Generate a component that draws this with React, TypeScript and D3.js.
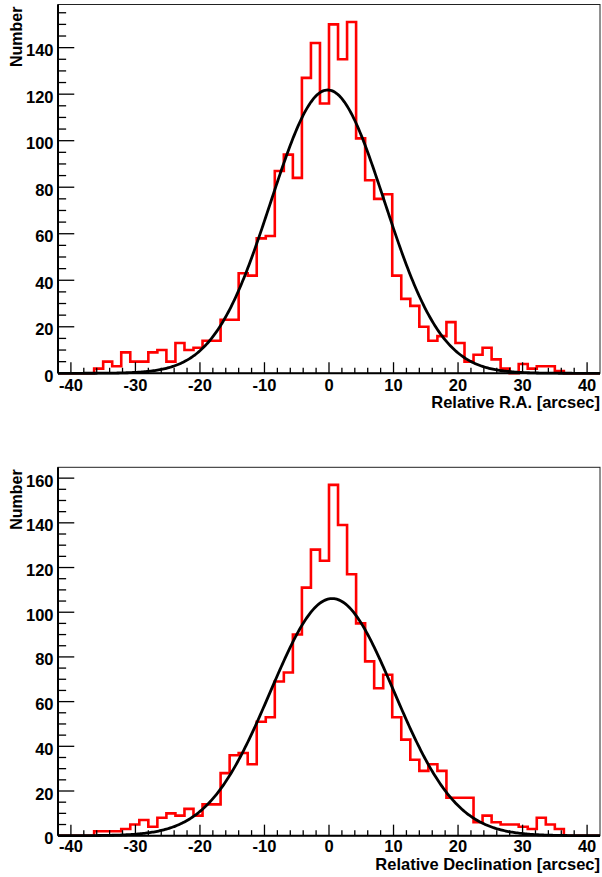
import React from 'react';
import * as d3 from 'd3';

// histogram binning: 60 bins of 1.4 arcsec over [-42, 42]
const binStart = -42;
const binWidth = 1.4;

// counts per bin
const raCounts = [
  0, 0, 0, 0, 2, 5, 3, 9, 5, 5,
  9, 10, 5, 13, 10, 11, 14, 14, 23, 23,
  43, 42, 58, 59, 87, 94, 84, 127, 142, 116,
  150, 135, 151, 101, 83, 75, 77, 42, 32, 29,
  20, 14, 16, 22, 13, 5, 8, 11, 6, 2,
  0, 4, 2, 3, 3, 1, 0, 0, 0, 0,
];
const decCounts = [
  0, 0, 0, 0, 2, 2, 2, 3, 5, 7,
  4, 8, 10, 9, 12, 9, 14, 14, 28, 36,
  37, 32, 51, 53, 69, 73, 90, 111, 128, 123,
  157, 139, 117, 95, 78, 66, 72, 53, 43, 34,
  29, 32, 29, 17, 17, 17, 6, 9, 6, 5,
  5, 4, 3, 8, 5, 3, 0, 0, 0, 0,
];

// gaussian fit parameters (amplitude, mean, sigma)
const raFit = [121.8, -0.2, 8.8];
const decFit = [106.1, 0.5, 9.6];

const xMajorTicks = [-40, -30, -20, -10, 0, 10, 20, 30, 40];
const raYTicks = [0, 20, 40, 60, 80, 100, 120, 140];
const decYTicks = [0, 20, 40, 60, 80, 100, 120, 140, 160];

const FONT = '"Liberation Sans", Arial, Helvetica, sans-serif';
const W = 602;
const H = 877;

function Panel({ counts, fit, yMax, yTicks, top, bottom, xTitle, labelBase, titleBase }) {
  const left = 58, right = 600;
  const x = d3.scaleLinear().domain([-42, 42]).range([left, right]);
  const y = d3.scaleLinear().domain([0, yMax]).range([bottom, top]);

  // step outline
  let d = `M${x(binStart)},${y(0)}`;
  counts.forEach((c, i) => {
    d += `V${y(c)}H${x(binStart + (i + 1) * binWidth)}`;
  });
  d += `V${y(0)}`;

  const [amp, mu, sig] = fit;
  const xs = d3.range(-42, 42.001, 0.2);
  const curve = d3.line()
    .x(v => x(v))
    .y(v => y(amp * Math.exp(-((v - mu) ** 2) / (2 * sig * sig))))(xs);

  const xMinor = d3.range(-42, 42.001, 2).filter(v => !xMajorTicks.includes(v) && v > -42 && v < 42);
  const yMinor = d3.range(0, yMax, 5).filter(v => v % 20 !== 0);
  const xTickLen = 0.03 * (bottom - top);
  const yTickLen = 0.03 * (right - left);

  return (
    <g>
      {/* frame */}
      <rect x={left} y={top} width={right - left} height={bottom - top} fill="none" stroke="#222" strokeWidth={1} />

      <path d={d} fill="none" stroke="#ff0000" strokeWidth={2.6} strokeLinejoin="miter" />
      <path d={curve} fill="none" stroke="#000" strokeWidth={2.8} />

      {/* axes */}
      <line x1={left} x2={right} y1={bottom} y2={bottom} stroke="#000" strokeWidth={2} />
      <line x1={left} x2={left} y1={top} y2={bottom} stroke="#000" strokeWidth={2} />

      {xMajorTicks.map(v => (
        <line key={'xM' + v} x1={x(v)} x2={x(v)} y1={bottom} y2={bottom - xTickLen} stroke="#000" strokeWidth={1.3} />
      ))}
      {xMinor.map(v => (
        <line key={'xm' + v} x1={x(v)} x2={x(v)} y1={bottom} y2={bottom - xTickLen / 2} stroke="#000" strokeWidth={1.3} />
      ))}
      {yTicks.map(v => (
        <line key={'yM' + v} x1={left} x2={left + yTickLen} y1={y(v)} y2={y(v)} stroke="#000" strokeWidth={1.3} />
      ))}
      {yMinor.map(v => (
        <line key={'ym' + v} x1={left} x2={left + yTickLen / 2} y1={y(v)} y2={y(v)} stroke="#000" strokeWidth={1.3} />
      ))}

      {xMajorTicks.map(v => (
        <text key={'xl' + v} x={x(v)} y={labelBase} textAnchor="middle" fontFamily={FONT} fontWeight="bold" fontSize={16.5} fill="#000">
          {v}
        </text>
      ))}
      {yTicks.map(v => (
        <text key={'yl' + v} x={left - 4.5} y={y(v) + 8.5} textAnchor="end" fontFamily={FONT} fontWeight="bold" fontSize={16.5} fill="#000">
          {v}
        </text>
      ))}

      <text transform={`translate(21.5,${top + 2}) rotate(-90)`} textAnchor="end" fontFamily={FONT} fontWeight="bold" fontSize={16} fill="#000">
        Number
      </text>
      <text x={right} y={titleBase} textAnchor="end" fontFamily={FONT} fontWeight="bold" fontSize={16.5} fill="#000">
        {xTitle}
      </text>
    </g>
  );
}

export default function App() {
  return (
    <svg width={W} height={H} viewBox={`0 0 ${W} ${H}`} style={{ position: 'absolute', left: 0, top: 0, background: '#fff' }}>
      <rect width={W} height={H} fill="#fff" />
      <Panel
        counts={raCounts}
        fit={raFit}
        yMax={d3.max(raCounts) * 1.05}
        yTicks={raYTicks}
        top={4.5}
        bottom={373.3}
        xTitle="Relative R.A. [arcsec]"
        labelBase={390.5}
        titleBase={407.5}
      />
      <Panel
        counts={decCounts}
        fit={decFit}
        yMax={d3.max(decCounts) * 1.05}
        yTicks={decYTicks}
        top={467.3}
        bottom={835.7}
        xTitle="Relative Declination [arcsec]"
        labelBase={852}
        titleBase={869.5}
      />
    </svg>
  );
}
